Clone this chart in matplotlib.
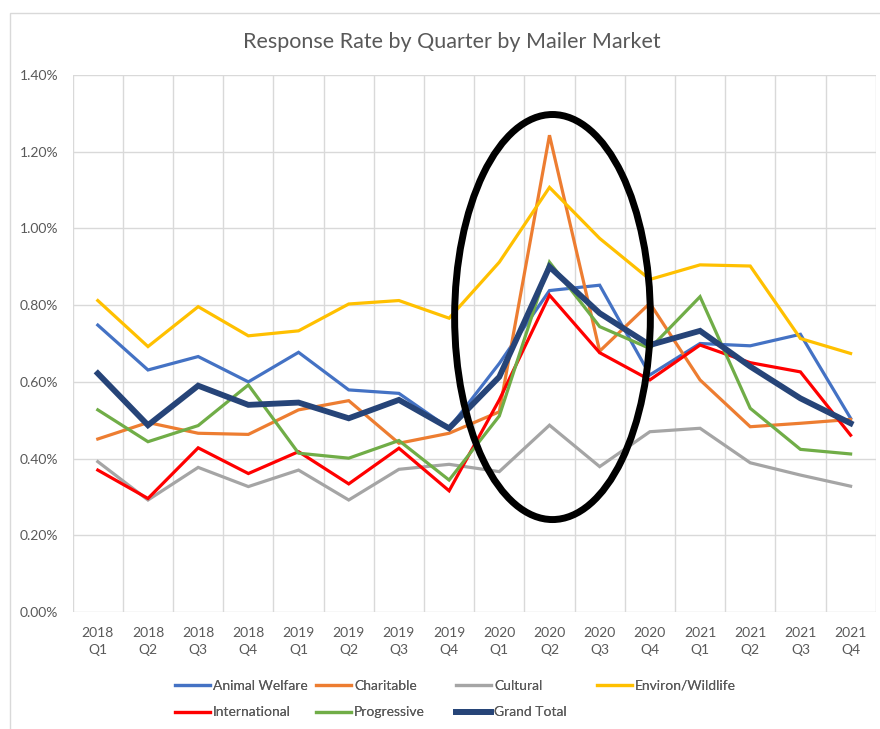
import numpy as np
import matplotlib
matplotlib.use("Agg")
import matplotlib.pyplot as plt
from matplotlib.patches import Ellipse, Rectangle
from matplotlib.ticker import PercentFormatter

plt.rcParams['font.family'] = ['Lato', 'DejaVu Sans']

# quarters on the x axis
quarters = ["2018\nQ1", "2018\nQ2", "2018\nQ3", "2018\nQ4",
            "2019\nQ1", "2019\nQ2", "2019\nQ3", "2019\nQ4",
            "2020\nQ1", "2020\nQ2", "2020\nQ3", "2020\nQ4",
            "2021\nQ1", "2021\nQ2", "2021\nQ3", "2021\nQ4"]

# response rates in percent
animal_welfare = [0.748, 0.631, 0.666, 0.600, 0.677, 0.579, 0.570, 0.479,
                  0.648, 0.838, 0.852, 0.618, 0.700, 0.694, 0.724, 0.505]
charitable = [0.451, 0.494, 0.466, 0.463, 0.527, 0.551, 0.440, 0.466,
              0.522, 1.243, 0.680, 0.805, 0.605, 0.483, 0.492, 0.502]
cultural = [0.392, 0.292, 0.377, 0.327, 0.370, 0.292, 0.372, 0.385,
            0.366, 0.487, 0.379, 0.470, 0.479, 0.389, 0.357, 0.328]
environ = [0.812, 0.692, 0.796, 0.720, 0.733, 0.803, 0.812, 0.766,
           0.912, 1.107, 0.974, 0.867, 0.905, 0.902, 0.713, 0.674]
international = [0.370, 0.296, 0.428, 0.361, 0.418, 0.334, 0.427, 0.316,
                 0.553, 0.826, 0.676, 0.605, 0.696, 0.650, 0.626, 0.461]
progressive = [0.527, 0.444, 0.486, 0.592, 0.414, 0.401, 0.447, 0.344,
               0.511, 0.912, 0.744, 0.687, 0.822, 0.531, 0.424, 0.412]
grand_total = [0.622, 0.487, 0.590, 0.540, 0.546, 0.505, 0.553, 0.479,
               0.613, 0.900, 0.779, 0.696, 0.733, 0.640, 0.557, 0.492]

series = [
    ("Animal Welfare", animal_welfare, "#4472C4", 2.3),
    ("Charitable", charitable, "#ED7D31", 2.3),
    ("Cultural", cultural, "#A5A5A5", 2.3),
    ("Environ/Wildlife", environ, "#FFC000", 2.3),
    ("International", international, "#FF0000", 2.3),
    ("Progressive", progressive, "#70AD47", 2.3),
    ("Grand Total", grand_total, "#264478", 4.2),
]

grid_c = "#D9D9D9"
text_c = "#595959"

fig = plt.figure(figsize=(8.8, 7.29), dpi=100)
ax = fig.add_axes([72.7 / 880, 117 / 729, (875.7 - 72.7) / 880, (612 - 75) / 729])

x = np.arange(len(quarters))
handles = {}
for name, vals, col, lw in series:
    h, = ax.plot(x, vals, color=col, lw=lw, label=name, solid_joinstyle='miter')
    handles[name] = h

# the circled 2020 spike
ax.add_patch(Ellipse((9.06, 0.769), width=3.9, height=1.056, fill=False,
                     ec="black", lw=5, zorder=5))

ax.set_xlim(-0.5, len(quarters) - 0.5)
ax.set_ylim(0, 1.4)
ax.set_xticks(x)
ax.set_xticklabels(quarters, color=text_c, fontsize=10, linespacing=1.55)
ax.set_xticks(np.arange(-0.5, len(quarters), 1), minor=True)
ax.set_yticks(np.arange(0, 1.41, 0.2))
ax.yaxis.set_major_formatter(PercentFormatter(decimals=2))
ax.tick_params(axis='both', which='both', length=0, colors=text_c, labelsize=10)
ax.tick_params(axis='x', pad=10.5)
ax.tick_params(axis='y', pad=10.5)

ax.grid(True, axis='y', which='major', color=grid_c, lw=1)
ax.grid(True, axis='x', which='minor', color=grid_c, lw=1)
ax.set_axisbelow(True)
for s in ax.spines.values():
    s.set_visible(False)

fig.text(0.513, 1 - 42 / 729, "Response Rate by Quarter by Mailer Market",
         ha='center', va='center', fontsize=15.5, color=text_c)

# Excel style legend: equal width columns, one small legend per column
leg_cols = [["Animal Welfare", "International"],
            ["Charitable", "Progressive"],
            ["Cultural", "Grand Total"],
            ["Environ/Wildlife"]]
leg_x = [175, 316, 456, 597]
for names, lx in zip(leg_cols, leg_x):
    leg = fig.legend(handles=[handles[n] for n in names], loc='upper left',
                     bbox_to_anchor=(lx / 880, 1 - 679.5 / 729), frameon=False,
                     fontsize=10, labelcolor=text_c, handlelength=2.5,
                     handletextpad=0.25, labelspacing=1.08, borderpad=0,
                     borderaxespad=0)
    fig.add_artist(leg)

# chart area border (cut off at right and bottom in the screenshot)
fig.patches.append(Rectangle((10 / 880, -0.1), 1.2, 0.1 + 1 - 13 / 729,
                             transform=fig.transFigure, fill=False,
                             ec=grid_c, lw=1))

fig.savefig("out.png", dpi=100)
